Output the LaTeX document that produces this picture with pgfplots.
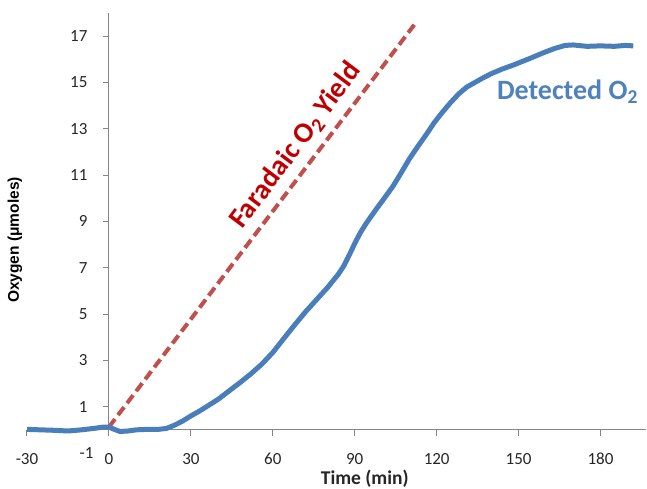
\documentclass[border=0pt]{standalone}
\usepackage{fontspec}
\setmainfont{Carlito}
\newfontfamily\arialfont{Liberation Sans}
\usepackage{pgfplots}
\pgfplotsset{compat=1.18}
\definecolor{serblue}{HTML}{4A7EBB}
\definecolor{serred}{HTML}{C0504D}
\definecolor{labred}{HTML}{C00000}
\definecolor{labblue}{HTML}{4F81BD}
\definecolor{axgray}{HTML}{868686}
\definecolor{ticktext}{HTML}{262626}
\begin{document}
\begin{tikzpicture}
\path[use as bounding box] (0,0) rectangle (647pt,489pt);
\begin{axis}[
  at={(27pt,36pt)}, anchor=south west,
  scale only axis, width=618.6pt, height=440pt,
  xmin=-30, xmax=196.5, ymin=-1, ymax=18,
  axis x line=middle, axis y line=middle,
  axis line style={-, color=axgray, line width=1pt},
  y axis line style={draw=none},
  hide obscured x ticks=false,
  hide obscured y ticks=false,
  xtick={-30,0,30,60,90,120,150,180},
  ytick={1,3,5,7,9,11,13,15,17},
  extra y ticks={-1},
  extra y tick style={major tick length=0pt},
  tick align=outside,
  major tick length=6pt,
  tick style={color=axgray, line width=1pt},
  /pgf/number format/assume math mode=true,
  tick label style={font=\fontsize{17}{20}\selectfont, color=ticktext},
  xticklabel style={anchor=north, yshift=-14pt},
  yticklabel style={anchor=east, xshift=-12pt},
  clip=false,
  xlabel={Time (min)},
  ylabel={Oxygen (μmoles)},
  xlabel style={at={(axis description cs:0.546,-0.059)}, anchor=center, font=\bfseries\fontsize{19.5}{22}\selectfont, color=ticktext},
  ylabel style={at={(axis description cs:-0.0194,0.484)}, anchor=center, rotate=90, font=\arialfont\bfseries\fontsize{15.5}{18}\selectfont, color=black},
]
\draw[axgray, line width=1pt] (axis cs:0,0) -- (axis cs:0,18);
\addplot[serred, line width=4pt, dash pattern=on 10pt off 5pt] coordinates {(0,0.12) (112.5,17.6)};
\addplot[serblue, line width=5pt, line join=round] coordinates {
(-30,0.02) (-25,0.00) (-20,-0.02) (-15,-0.05) (-10,0.00) (-5,0.07) (-2,0.12) (0,0.12)
(2,0.02) (4,-0.07) (7,-0.05) (10,0.00) (14,0.02) (18,0.02) (21,0.06) (24,0.20)
(27,0.38) (30,0.60) (33,0.80) (36,1.02) (40,1.32) (44,1.68) (48,2.04) (52,2.42)
(56,2.84) (60,3.34) (64,3.94) (68,4.53) (72,5.10) (76,5.62) (80,6.14) (84,6.72)
(86,7.08) (88,7.55) (90,8.05) (92,8.50) (94,8.88) (96,9.22) (98,9.55) (101,10.03)
(104,10.52) (107,11.10)
(110,11.70) (113,12.22) (116,12.72) (119,13.25) (122,13.70) (125,14.12) (128,14.50)
(131,14.80) (134,15.00) (137,15.20) (140,15.38) (144,15.58) (148,15.75) (151,15.89)
(155,16.08) (159,16.28) (163,16.46) (167,16.60) (170,16.62) (175,16.56) (180,16.58)
(185,16.56) (189,16.60) (192,16.58)};
\node[rotate=53.1, color=labred, font=\bfseries\fontsize{28.5}{32}\selectfont] at (axis cs:68.5,12.27) {Faradaic O\textsubscript{2} Yield};
\node[color=labblue, font=\bfseries\fontsize{28}{32}\selectfont] at (axis cs:167.9,14.6) {Detected O\textsubscript{2}};
\end{axis}
\end{tikzpicture}
\end{document}
